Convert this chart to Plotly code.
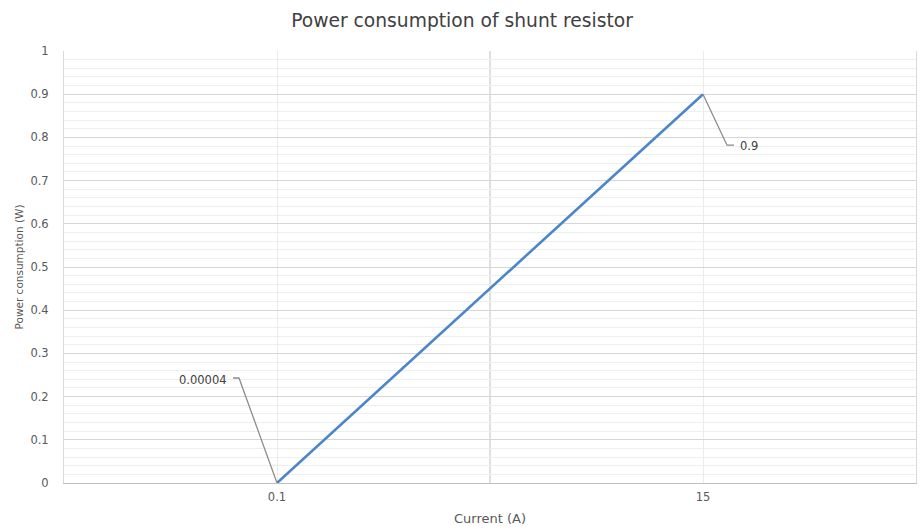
import plotly.graph_objects as go

categories = ["0.1", "15"]
power_w = [0.00004, 0.9]
label_text = ["0.00004", "0.9"]

FONT = "DejaVu Sans"

fig = go.Figure()
fig.add_trace(go.Scatter(
    x=categories, y=power_w, mode="lines",
    line=dict(color="#4a86c8", width=2.6), hoverinfo="x+y", showlegend=False,
))

# leader-line paths (pixels, y up) and label offsets for the data labels
leaders = [
    dict(path="M0,0 L-38,105 L-44,105", ax=-74, ay=-103),
    dict(path="M0,0 L24,-51 L31,-51", ax=46, ay=52),
]
for i, (val, txt, ld) in enumerate(zip(power_w, label_text, leaders)):
    fig.add_shape(type="path", xref="x", yref="y", xsizemode="pixel", ysizemode="pixel",
                  xanchor=i, yanchor=val, path=ld["path"],
                  line=dict(color="#8c8c8c", width=1.3), layer="above")
    fig.add_annotation(x=i, y=val, xref="x", yref="y", text=txt, showarrow=True,
                       arrowcolor="rgba(0,0,0,0)", ax=ld["ax"], ay=ld["ay"],
                       font=dict(family=FONT, size=11.5, color="#404040"))

# major vertical gridline between categories
fig.add_shape(type="line", xref="x", yref="paper", x0=0.5, x1=0.5, y0=0, y1=1,
              line=dict(color="#d0d0d0", width=1.3), layer="below")

fig.update_layout(
    width=924, height=529,
    margin=dict(l=64, r=8, t=51, b=46),
    paper_bgcolor="white", plot_bgcolor="white",
    title=dict(text="Power consumption of shunt resistor", x=0.5, xanchor="center",
               xref="container", yref="container",
               y=1 - 20 / 529, yanchor="middle",
               font=dict(family=FONT, size=18.7, color="#404040")),
    font=dict(family=FONT, color="#595959", size=11.5),
    xaxis=dict(type="category", range=[-0.5, 1.5], showgrid=True, gridcolor="#ebebeb",
               gridwidth=1, showline=True, linecolor="#bfbfbf", linewidth=1.3,
               ticks="outside", ticklen=3, tickcolor="rgba(0,0,0,0)",
               tickfont=dict(family=FONT, size=11.5, color="#595959"), zeroline=False,
               automargin=False,
               title=dict(text="Current (A)", standoff=10,
                          font=dict(family=FONT, size=13, color="#595959"))),
    yaxis=dict(range=[0, 1], dtick=0.1, showgrid=True, gridcolor="#d6d6d6", gridwidth=1,
               minor=dict(dtick=0.02, showgrid=True, gridcolor="#eeeeee", gridwidth=1),
               showline=True, linecolor="#d9d9d9", mirror=True, linewidth=1,
               ticks="outside", ticklen=12, tickcolor="rgba(0,0,0,0)", zeroline=False,
               tickfont=dict(family=FONT, size=11.5, color="#595959"),
               automargin=False,
               title=dict(text="Power consumption (W)", standoff=4,
                          font=dict(family=FONT, size=10.5, color="#595959"))),
)

fig.write_html("out.html", config={"displayModeBar": False},
               post_script="document.body.style.margin='0';")
